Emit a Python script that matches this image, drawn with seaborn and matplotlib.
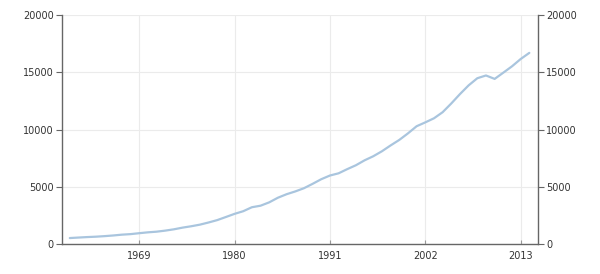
import matplotlib
matplotlib.use("Agg")
import matplotlib.pyplot as plt
import seaborn as sns
import pandas as pd

years = list(range(1961, 2015))
values = [520, 563, 605, 638, 686, 744, 815, 862, 943, 1019, 1075, 1168, 1282, 1429,
          1549, 1689, 1878, 2086, 2357, 2632, 2863, 3211, 3345, 3638, 4041, 4347,
          4590, 4870, 5253, 5658, 5980, 6174, 6539, 6879, 7309, 7664, 8100, 8609,
          9089, 9661, 10285, 10622, 10978, 11511, 12275, 13094, 13856, 14478,
          14719, 14419, 14964, 15518, 16155, 16692]
x_ticks = [1969, 1980, 1991, 2002, 2013]
y_ticks = [0, 5000, 10000, 15000, 20000]

df = pd.DataFrame({"year": years, "value": values})

sns.set_theme(style="white")
plt.rcParams['font.family'] = ['DejaVu Sans']

fig = plt.figure(figsize=(6, 2.74), dpi=100)
ax = fig.add_axes([62/600, 30/274, 476/600, 229/274])

sns.lineplot(data=df, x="year", y="value", ax=ax, color="#a9c5de", linewidth=1.6)

ax.set_xlim(1960.1, 2015.0)
ax.set_ylim(0, 20000)
ax.set_xticks(x_ticks)
ax.set_xticklabels([str(t) for t in x_ticks])
ax.set_yticks(y_ticks)
ax.set_yticklabels([str(t) for t in y_ticks])
ax.set_xlabel("")
ax.set_ylabel("")

ax.grid(True, color="#ebebeb", linewidth=0.8)
ax.set_axisbelow(True)

for s in ["left", "right", "bottom"]:
    ax.spines[s].set_visible(True)
    ax.spines[s].set_color("#666666")
    ax.spines[s].set_linewidth(1.0)
ax.spines["top"].set_visible(False)

ax.tick_params(axis="y", left=True, right=True, labelleft=True, labelright=True,
               direction="out", length=4, width=0.8, color="#666666",
               labelsize=7, labelcolor="#333333", pad=2)
ax.tick_params(axis="x", bottom=True, direction="in", length=3, width=0.8,
               color="#999999", labelsize=7, labelcolor="#333333", pad=5)

fig.savefig("out.png", dpi=100)
